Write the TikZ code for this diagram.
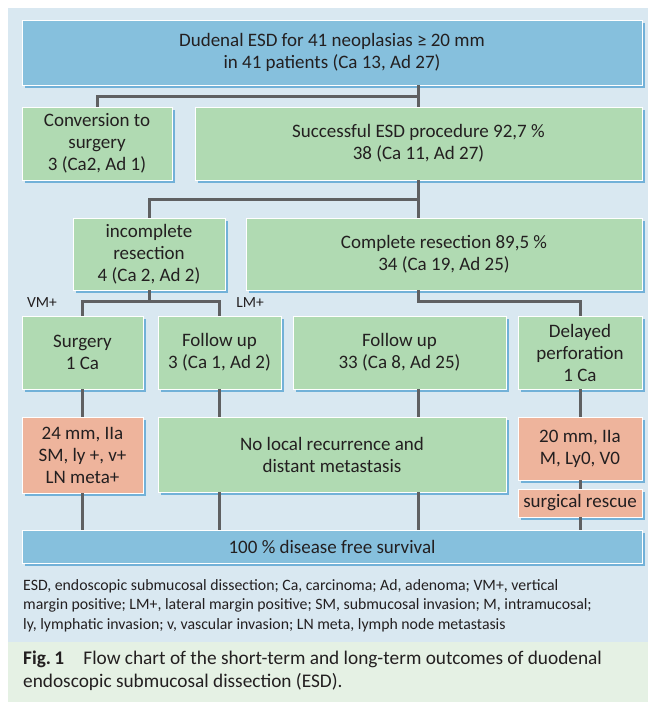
\documentclass[tikz,border=0pt]{standalone}
\usepackage{fontspec}
\setmainfont{Carlito}
\usetikzlibrary{calc,shadows}
\begin{document}
\begin{tikzpicture}[x=1pt,y=-1pt,
  box/.style={draw=white,line width=0.8pt,inner sep=0pt,align=center,
    text=textColor,font=\fontsize{19}{22}\selectfont,
    drop shadow={shadow xshift=2.5pt,shadow yshift=-2.5pt,fill=shadowColor,opacity=0.85}},
  bluebox/.style={box,fill=boxBlue},
  greenbox/.style={box,fill=boxGreen},
  salmonbox/.style={box,fill=boxSalmon},
  link/.style={draw=lineColor,line width=3pt},
  tag/.style={text=textColor,inner sep=0pt,font=\fontsize{15.5}{17}\selectfont}]
\definecolor{panelBlue}{RGB}{217,232,241}
\definecolor{panelGreen}{RGB}{229,241,228}
\definecolor{boxBlue}{RGB}{134,192,221}
\definecolor{boxGreen}{RGB}{176,218,178}
\definecolor{boxSalmon}{RGB}{238,180,156}
\definecolor{shadowColor}{RGB}{96,168,212}
\definecolor{lineColor}{RGB}{95,96,98}
\definecolor{textColor}{RGB}{35,31,32}
\path[use as bounding box,fill=white] (0,0) rectangle (648,712);

% panels
\path[fill=panelBlue] (8,8) rectangle (648,642);
\path[fill=panelGreen] (8,642) rectangle (648,702);

% boxes
\node[bluebox,minimum width=620pt,minimum height=65pt] (top) at (332,52.5)
  {Dudenal ESD for 41 neoplasias ≥ 20 mm\\in 41 patients (Ca 13, Ad 27)};
\node[greenbox,minimum width=150pt,minimum height=73pt] (conv) at (97,143.5)
  {Conversion to\\surgery\\3 (Ca2, Ad 1)};
\node[greenbox,minimum width=447pt,minimum height=73pt] (succ) at (418.5,143.5)
  {Successful ESD procedure 92,7 \%\\38 (Ca 11, Ad 27)};
\node[greenbox,minimum width=152pt,minimum height=72pt] (incomp) at (149,254)
  {incomplete\\resection\\4 (Ca 2, Ad 2)};
\node[greenbox,minimum width=396pt,minimum height=72pt] (compl) at (444,254)
  {Complete resection 89,5 \%\\34 (Ca 19, Ad 25)};
\node[greenbox,minimum width=121pt,minimum height=73pt] (surg) at (82.5,352.5)
  {Surgery\\1 Ca};
\node[greenbox,minimum width=123pt,minimum height=73pt] (fuA) at (219.5,352.5)
  {Follow up\\3 (Ca 1, Ad 2)};
\node[greenbox,minimum width=213pt,minimum height=73pt] (fuB) at (399.5,352.5)
  {Follow up\\33 (Ca 8, Ad 25)};
\node[greenbox,minimum width=124pt,minimum height=73pt] (delay) at (580,352.5)
  {Delayed\\perforation\\1 Ca};
\node[salmonbox,minimum width=121pt,minimum height=76pt] (tumA) at (82.5,455)
  {24 mm, IIa\\SM, ly +, v+\\LN meta+};
\node[greenbox,minimum width=348pt,minimum height=75pt] (norec) at (332,454.5)
  {No local recurrence and\\distant metastasis};
\node[salmonbox,minimum width=124pt,minimum height=63pt] (tumB) at (580,448.5)
  {20 mm, IIa\\M, Ly0, V0};
\node[salmonbox,minimum width=124pt,minimum height=28pt] (rescue) at (580,503)
  {surgical rescue};
\node[bluebox,minimum width=620pt,minimum height=33pt] (dfs) at (332,546.5)
  {100 \% disease free survival};

% junctions
\coordinate (j1) at ($(top.south -| succ.north)!0.5!(succ.north)$);
\coordinate (j2) at ($(succ.south)!0.5!(succ.south |- compl.north)$);
\coordinate (j3) at ($(incomp.south)!0.45!(incomp.south |- surg.north)$);
\coordinate (j4) at (j3 -| succ.south);

% connectors
\draw[link] (top.south -| succ.north) -- (succ.north);
\draw[link] (j1) -| (conv.north);
\draw[link] (succ.south) -- (succ.south |- compl.north);
\draw[link] (j2) -| (incomp.north);
\draw[link] (incomp.south) -- (j3);
\draw[link] (surg.north) |- (j3) -| (fuA.north);
\draw[link] (compl.south -| succ.south) -- (j4) -| (delay.north);
\draw[link] (surg.south) -- (tumA.north);
\draw[link] (fuA.south) -- (fuA.south |- norec.north);
\draw[link] (fuB.south -| succ.south) -- (norec.north -| succ.south);
\draw[link] (delay.south) -- (tumB.north);
\draw[link] (tumB.south) -- (rescue.north);
\draw[link] (tumA.south) -- (dfs.north -| tumA.south);
\draw[link] (norec.south -| fuA.south) -- (dfs.north -| fuA.south);
\draw[link] (norec.south -| succ.south) -- (dfs.north -| succ.south);
\draw[link] (rescue.south) -- (dfs.north -| rescue.south);

% margin labels
\node[tag] (vm) at (42,303) {VM+};
\node[tag] (lm) at (250,303) {LM+};

% footnote and caption
\node[anchor=north west,inner sep=0pt,align=left,text=textColor,
  font=\fontsize{15.8}{19.5}\selectfont] (note) at (23,579)
  {ESD, endoscopic submucosal dissection; Ca, carcinoma; Ad, adenoma; VM+, vertical\\
   margin positive; LM+, lateral margin positive; SM, submucosal invasion; M, intramucosal;\\
   ly, lymphatic invasion; v, vascular invasion; LN meta, lymph node metastasis};
\node[anchor=north west,inner sep=0pt,align=left,text=textColor,
  font=\fontsize{19.3}{23}\selectfont] (cap) at (23,651)
  {\textbf{Fig.\,1}\quad Flow chart of the short-term and long-term outcomes of duodenal\\
   endoscopic submucosal dissection (ESD).};
\end{tikzpicture}
\end{document}
